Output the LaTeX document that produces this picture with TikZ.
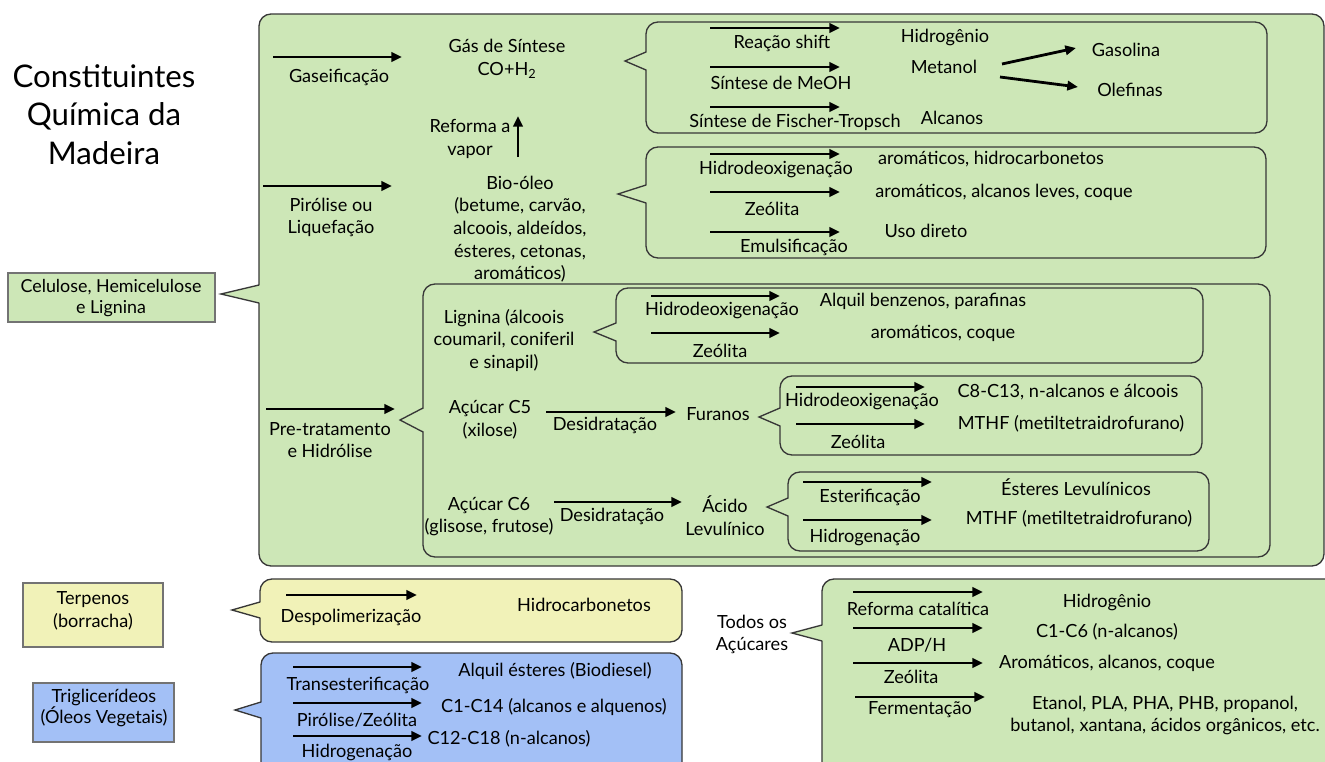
\documentclass[tikz,border=0pt]{standalone}
\usepackage{fontspec}
\setmainfont{Lato}
\usetikzlibrary{arrows.meta}
\definecolor{gfill}{RGB}{205,231,183}
\definecolor{yfill}{RGB}{241,242,184}
\definecolor{bfill}{RGB}{163,192,246}
\definecolor{bord}{RGB}{55,55,55}
\tikzset{
  boxline/.style={draw=bord, line width=1pt},
  txt/.style={align=center, inner sep=0pt, font=\fontsize{13.6}{17}\selectfont},
  ttl/.style={align=center, inner sep=0pt, font=\fontsize{23.4}{29}\selectfont},
  arr/.style={line width=2.1pt, -{Triangle[length=8pt,width=7pt]}},
  plainbox/.style={draw=bord!70, line width=0.8pt}
}
% fill, x1, y1, x2, y2, tipx, tipy, half width
\newcommand\callout[8]{%
  \filldraw[boxline,fill=#1,rounded corners=9pt] (#2,#3) rectangle (#4,#5);
  \fill[#1] (#6,#7) -- (#2+2,#7-#8) -- (#2+2,#7+#8) -- cycle;
  \draw[boxline] (#2,#7-#8) -- (#6,#7) -- (#2,#7+#8);}
% name, x1, x2, y
\newcommand\proc[4]{%
  \coordinate (#1s) at (#2,#4); \coordinate (#1e) at (#3,#4);
  \draw[arr] (#1s) -- (#1e);}
\begin{document}
\begin{tikzpicture}[x=0.75pt,y=-0.75pt]
\clip (0,0) rectangle (1325,761);
\fill[white] (0,0) rectangle (1325,761);

% ---------- title and left boxes
\node[ttl] (title) at (104,114.5) {Constituintes\\Química da\\Madeira};
\filldraw[plainbox,fill=gfill] (8,273) rectangle (215,322);
\node[txt, font=\fontsize{13.4}{16}\selectfont] (cel) at (111,298) {Celulose, Hemicelulose\\e Lignina};
\filldraw[plainbox,fill=yfill] (23,583) rectangle (163,647);
\node[txt] (terp) at (93,611) {Terpenos\\(borracha)};
\filldraw[plainbox,fill=bfill] (33,683) rectangle (174,742);
\node[txt, font=\fontsize{13.6}{15.5}\selectfont] (trig) at (104,708) {Triglicerídeos\\(Óleos Vegetais)};

% ---------- big green box
\callout{gfill}{259}{14}{1324}{566}{221}{294}{9}
\callout{gfill}{646}{22}{1267}{133}{625}{61}{9}
\callout{gfill}{646}{147}{1266}{258}{618}{194}{9}
\callout{gfill}{423}{284}{1270}{557}{400}{420}{12}
\callout{gfill}{616}{288}{1203}{363}{594}{332}{9}
\callout{gfill}{780}{376}{1202}{455}{759}{417}{9}
\callout{gfill}{788}{472}{1209}{551}{767}{507}{9}

% gaseificacao
\proc{ga}{273}{402}{57}
\node[txt] (gasl) at (339,77) {Gaseificação};
\node[txt] (syn) at (507,59) {Gás de Síntese\\CO+H\textsubscript{2}};
\node[txt] (ref) at (470,139) {Reforma a\\vapor};
\coordinate (refs) at (518,157); \coordinate (refe) at (518,116);
\draw[arr] (refs) -- (refe);

% pirolise
\proc{pi}{263}{392}{186}
\node[txt] (pil) at (331,217.5) {Pirólise ou\\Liquefação};
\node[txt] (bio) at (520,229) {Bio-óleo\\(betume, carvão,\\alcoois, aldeídos,\\ésteres, cetonas,\\aromáticos)};

% box 1
\proc{b1a}{710}{840}{28}
\proc{b1b}{710}{840}{67}
\proc{b1c}{710}{840}{107}
\node[txt] (shift) at (782,43) {Reação shift};
\node[txt] (meoh) at (781,83) {Síntese de MeOH};
\node[txt] (ft) at (795,122) {Síntese de Fischer-Tropsch};
\node[txt] (hid1) at (945,37) {Hidrogênio};
\node[txt] (met) at (944,67) {Metanol};
\node[txt] (alc) at (952,118) {Alcanos};
\node[txt] (gaso) at (1126,50) {Gasolina};
\node[txt] (olef) at (1130,90) {Olefinas};
\coordinate (m1) at (1002,64); \coordinate (g1) at (1076,48);
\coordinate (m2) at (1000,77); \coordinate (o1) at (1078,87);
\draw[arr] (m1) -- (g1);
\draw[arr] (m2) -- (o1);

% box 2
\proc{b2a}{710}{840}{154}
\proc{b2b}{710}{840}{192}
\proc{b2c}{710}{840}{232}
\node[txt] (hdo1) at (776,169) {Hidrodeoxigenação};
\node[txt] (zeo1) at (772,209) {Zeólita};
\node[txt] (emul) at (794,247) {Emulsificação};
\node[txt] (r21) at (991,159) {aromáticos, hidrocarbonetos};
\node[txt] (r22) at (1004,192) {aromáticos, alcanos leves, coque};
\node[txt] (r23) at (926,231) {Uso direto};

% pre-tratamento
\proc{pt}{266}{395}{409}
\node[txt] (ptl) at (330,440) {Pre-tratamento\\e Hidrólise};
\node[txt] (lig) at (504,340.5) {Lignina (álcoois\\coumaril, coniferil\\e sinapil)};

% box 3a
\proc{b3a}{651}{780}{296}
\proc{b3b}{651}{780}{333}
\node[txt] (hdo2) at (722,310) {Hidrodeoxigenação};
\node[txt] (zeo2) at (720,351) {Zeólita};
\node[txt] (r31) at (923,301) {Alquil benzenos, parafinas};
\node[txt] (r32) at (943,333) {aromáticos, coque};

% C5
\node[txt] (c5) at (490,420) {Açúcar C5\\(xilose)};
\proc{d5}{546}{676}{412}
\node[txt] (d5l) at (605,425) {Desidratação};
\node[txt] (fur) at (718,414) {Furanos};
\proc{b4a}{796}{925}{387}
\proc{b4b}{796}{925}{424}
\node[txt] (hdo3) at (862,401) {Hidrodeoxigenação};
\node[txt] (zeo3) at (858,442) {Zeólita};
\node[txt] (r41) at (1068,392) {C8-C13, n-alcanos e álcoois};
\node[txt] (r42) at (1071,424) {MTHF (metiltetraidrofurano)};

% C6
\node[txt] (c6) at (489,516.5) {Açúcar C6\\(glisose, frutose)};
\proc{d6}{554}{682}{502}
\node[txt] (d6l) at (612,516) {Desidratação};
\node[txt] (lev) at (725,516) {Ácido\\Levulínico};
\proc{b5a}{803}{932}{482}
\proc{b5b}{803}{932}{520}
\node[txt] (est) at (870,497) {Esterificação};
\node[txt] (hgn1) at (865,537) {Hidrogenação};
\node[txt] (r51) at (1076,487) {Ésteres Levulínicos};
\node[txt] (r52) at (1079,519) {MTHF (metiltetraidrofurano)};

% ---------- terpenos
\callout{yfill}{260}{579}{682}{642}{232}{610}{8}
\proc{y1}{286}{417}{595}
\node[txt] (desp) at (351,617) {Despolimerização};
\node[txt] (hcb) at (584,605) {Hidrocarbonetos};

% ---------- trigliceridios
\callout{bfill}{261}{653}{682}{800}{235}{710}{8}
\proc{t1}{293}{422}{667}
\proc{t2}{293}{422}{703}
\proc{t3}{293}{422}{736}
\node[txt] (trans) at (358,685) {Transesterificação};
\node[txt] (pz) at (357,720) {Pirólise/Zeólita};
\node[txt] (hgn2) at (357,752) {Hidrogenação};
\node[txt] (r61) at (555,671) {Alquil ésteres (Biodiesel)};
\node[txt] (r62) at (554,707) {C1-C14 (alcanos e alquenos)};
\node[txt] (r63) at (509,739) {C12-C18 (n-alcanos)};

% ---------- todos os acucares
\node[txt] (todos) at (752,634.5) {Todos os\\Açúcares};
\callout{gfill}{822}{579}{1360}{800}{792}{633}{8}
\proc{s1}{853}{983}{592}
\proc{s2}{853}{983}{628}
\proc{s3}{853}{983}{663}
\proc{s4}{855}{985}{697}
\node[txt] (refc) at (918,609) {Reforma catalítica};
\node[txt] (adp) at (917,645) {ADP/H};
\node[txt] (zeo4) at (911,677) {Zeólita};
\node[txt] (ferm) at (920,710) {Fermentação};
\node[txt] (r71) at (1107,602) {Hidrogênio};
\node[txt] (r72) at (1107,632) {C1-C6 (n-alcanos)};
\node[txt] (r73) at (1107,663) {Aromáticos, alcanos, coque};
\node[txt] (r74) at (1165,715.5) {Etanol, PLA, PHA, PHB, propanol,\\butanol, xantana, ácidos orgânicos, etc.};
\end{tikzpicture}
\end{document}
